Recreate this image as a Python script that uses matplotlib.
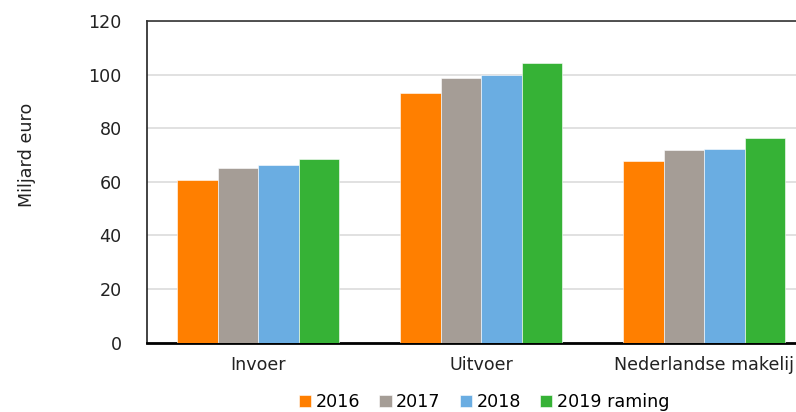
import numpy as np
import matplotlib.pyplot as plt

categories = ['Invoer', 'Uitvoer', 'Nederlandse makelij']
years = ['2016', '2017', '2018', '2019 raming']
values = {
    '2016': [60.6, 93.1, 67.9],
    '2017': [65.0, 98.6, 71.9],
    '2018': [66.3, 100.0, 72.4],
    '2019 raming': [68.4, 104.3, 76.3],
}
colors = ['#ff7f00', '#a59d96', '#6aade2', '#36b236']

plt.rcParams['font.family'] = ['DejaVu Sans']
plt.rcParams['font.size'] = 12.6

fig = plt.figure(figsize=(7.96, 4.12), dpi=100)
# axes runs a bit past the right edge of the figure
ax = fig.add_axes([146.7 / 796, (412 - 342.5) / 412, 669 / 796, 321.5 / 412])

x = np.arange(len(categories))
w = 0.1815
for i, (yr, c) in enumerate(zip(years, colors)):
    ax.bar(x + (i - 1.5) * w, values[yr], width=w, color=c, label=yr,
           edgecolor='white', linewidth=0.4, zorder=3)

ax.set_xlim(-0.5, 2.5)
ax.set_ylim(0, 120)
ax.set_yticks(range(0, 121, 20))
ax.set_xticks(x)
ax.set_xticklabels(categories)
ax.tick_params(axis='both', length=0, colors='#222222')
ax.tick_params(axis='y', pad=18)
ax.tick_params(axis='x', pad=10)
ax.yaxis.grid(True, color='#dcdcdc', linewidth=1.2, zorder=0)
ax.set_axisbelow(True)

ax.spines['right'].set_visible(False)
ax.spines['left'].set_color('#222222')
ax.spines['left'].set_linewidth(1.2)
ax.spines['top'].set_color('#333333')
ax.spines['top'].set_linewidth(1.2)
ax.spines['bottom'].set_color('black')
ax.spines['bottom'].set_linewidth(2)

fig.text(27 / 796, 1 - 155 / 412, 'Miljard euro', rotation=90,
         ha='center', va='center', color='#222222')

fig.legend(loc='center', bbox_to_anchor=(484 / 796, 1 - 402 / 412), ncol=4,
           frameon=False, handlelength=0.7, handleheight=0.7,
           handletextpad=0.25, columnspacing=1.1, borderaxespad=0)

fig.savefig('out.png', dpi=100)
